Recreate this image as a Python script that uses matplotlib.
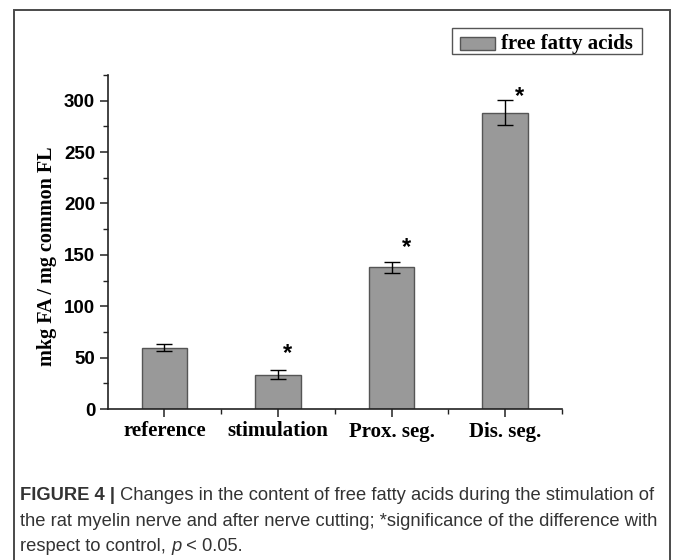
import matplotlib
matplotlib.use("Agg")
import matplotlib.pyplot as plt
from matplotlib.patches import Rectangle
from matplotlib.ticker import FixedLocator, MultipleLocator

categories = ["reference", "stimulation", "Prox. seg.", "Dis. seg."]
means = [59.5, 33.5, 138.0, 288.5]
errors = [3.5, 4.5, 5.5, 12.0]
significant = [False, True, True, True]
series_name = "free fatty acids"
y_label = "mkg FA / mg common FL"
y_ticks = [0, 50, 100, 150, 200, 250, 300]

SERIF = ["Liberation Serif", "DejaVu Serif"]
SANS = ["Liberation Sans", "DejaVu Sans"]

W, H = 673, 560
fig = plt.figure(figsize=(W / 100, H / 100), dpi=100)


def fx(px):
    return px / W


def fy(py):
    return 1 - py / H


# outer frame around chart and caption
fig.add_artist(Rectangle((fx(14), -0.05), fx(670 - 14), (H - 10) / H + 0.05,
                         transform=fig.transFigure, fill=False,
                         edgecolor="#4a4a4a", linewidth=1.4))

ax = fig.add_axes([fx(107.7), fy(409), fx(562 - 107.7), (409 - 75) / H])

x = list(range(1, len(categories) + 1))
bar_color, bar_edge = "#999999", "#555555"
ax.bar(x, means, width=0.4, color=bar_color, edgecolor=bar_edge,
       linewidth=1.0, label=series_name, zorder=2)
ax.errorbar(x, means, yerr=errors, fmt="none", ecolor="black",
            elinewidth=1.0, capsize=5.5, capthick=1.0, zorder=3)

# significance markers beside the error bars
star_dx = [0.0, 0.08, 0.135, 0.13]
star_dy = [0.0, 16.0, 14.0, 4.0]
for i, sig in enumerate(significant):
    if sig:
        ax.text(x[i] + star_dx[i], means[i] + errors[i] + star_dy[i], "*",
                ha="center", va="center", fontsize=17, fontweight="bold",
                family=SANS, zorder=4)

ax.set_xlim(0.5, 4.5)
ax.set_ylim(0, 325)
for s in ("top", "right"):
    ax.spines[s].set_visible(False)
for s in ("left", "bottom"):
    ax.spines[s].set_linewidth(1.2)
    ax.spines[s].set_color("#222222")

ax.set_xticks(x)
ax.set_xticklabels(categories, family=SERIF, fontweight="bold", fontsize=15)
ax.xaxis.set_minor_locator(FixedLocator([1.5, 2.5, 3.5, 4.5]))
ax.set_yticks(y_ticks)
ax.set_yticklabels([str(t) for t in y_ticks], family=SANS, fontweight="bold", fontsize=13.5)
ax.yaxis.set_minor_locator(MultipleLocator(25))
ax.tick_params(axis="both", which="major", direction="out", length=6, width=1.1,
               color="#222222", pad=3)
ax.tick_params(axis="both", which="minor", direction="out", length=3.5, width=1.0,
               color="#222222")
ax.tick_params(axis="x", which="major", pad=3)

ax.set_ylabel(y_label, family=SERIF, fontweight="bold", fontsize=14.5)
ax.yaxis.set_label_coords(-0.112, 0.458)

# legend box in the upper right
fig.add_artist(Rectangle((fx(452), fy(54)), fx(642 - 452), (54 - 28) / H,
                         transform=fig.transFigure, facecolor="white",
                         edgecolor="#555555", linewidth=1.0))
fig.add_artist(Rectangle((fx(460), fy(50)), fx(495 - 460), (50 - 37) / H,
                         transform=fig.transFigure, facecolor=bar_color,
                         edgecolor=bar_edge, linewidth=1.0))
fig.text(fx(501), fy(48.8), series_name, ha="left", va="baseline",
         family=SERIF, fontweight="bold", fontsize=15)

# caption
cap_color = "#333333"
cap_size = 13.2
lines = [
    [("FIGURE 4 |", "bold", "normal"),
     (" Changes in the content of free fatty acids during the stimulation of", "normal", "normal")],
    [("the rat myelin nerve and after nerve cutting; *significance of the difference with", "normal", "normal")],
    [("respect to control, ", "normal", "normal"), ("p", "normal", "italic"),
     (" < 0.05.", "normal", "normal")],
]
baselines = [500, 525.5, 551]
renderer = fig.canvas.get_renderer()
for pieces, base in zip(lines, baselines):
    xpos = 20.0
    for txt, weight, style in pieces:
        t = fig.text(fx(xpos), fy(base), txt, ha="left", va="baseline",
                     fontsize=cap_size, fontweight=weight, fontstyle=style,
                     family=SANS, color=cap_color)
        bb = t.get_window_extent(renderer=renderer)
        xpos += bb.width

fig.savefig("out.png", dpi=100)
